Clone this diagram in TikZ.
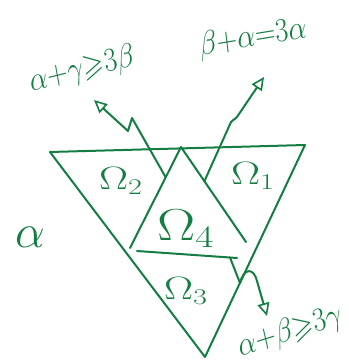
\documentclass[tikz,border=0pt]{standalone}
\usepackage{amssymb}
\usetikzlibrary{arrows.meta,calc}
\definecolor{ink}{RGB}{20,125,65}
\begin{document}
\begin{tikzpicture}[x=1pt,y=-1pt,line width=2pt,draw=ink,text=ink,line cap=round,line join=round,
  hd/.style={-{Triangle[open,length=13pt,width=12pt,line width=1.6pt]}},
  big/.style={font=\fontsize{24}{28}\selectfont,inner sep=0pt,transform shape},
  lbl/.style={big,xscale=1.15,yscale=1.35},
  reg/.style={big,xscale=1.75,yscale=1.3}]
\useasboundingbox (0,0) rectangle (348,364);
% outer triangle
\coordinate (A) at (50,152);
\coordinate (B) at (305,145);
\coordinate (C) at (205,357);
\draw (A) -- (B) -- (C) -- cycle;
% inner triangle
\coordinate (T) at (181,147);
\coordinate (L) at (130,248);
\coordinate (R) at (246,242);
\draw (L) -- (T) -- (R);
\coordinate (H1) at (137,251);
\coordinate (H2) at (237,258);
\draw (H1) -- (H2);
% connectors
\coordinate (la) at ($(T)!0.3!(L)$);
\coordinate (ra) at ($(T)!0.36!(R)$);
\coordinate (ba) at ($(H1)!0.93!(H2)$);
\coordinate (lt) at (94,100);
\coordinate (rt) at (264,77);
\coordinate (bt) at (267,316);
\draw[hd] (la) -- (132,118) -- (128,131) -- (lt);
\draw[hd] (ra) -- (231,122) -- (237,117) -- (rt);
\draw[hd] (ba) -- (240,283) .. controls (244,267) and (254,268) .. (257,281) -- (bt);
% labels
\node[lbl,rotate=12] (c1) at (82,70) {$\alpha{+}\gamma{\geqslant}3\beta$};
\node[lbl,rotate=8] (c2) at (253,38) {$\beta{+}\alpha{=}3\alpha$};
\node[lbl,rotate=15] (c3) at (290,332) {$\alpha{+}\beta{\geqslant}3\gamma$};
\node[big,scale=1.9] (x) at (30,237) {$\alpha$};
\node[reg] (o2) at (121,181) {$\Omega_2$};
\node[reg] (o1) at (253,176) {$\Omega_1$};
\node[big,xscale=2.3,yscale=1.8] (o4) at (186,229) {$\Omega_4$};
\node[reg] (o3) at (186,291) {$\Omega_3$};
\end{tikzpicture}
\end{document}
